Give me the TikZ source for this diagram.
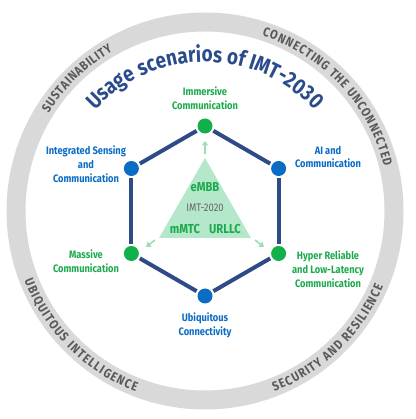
\documentclass[tikz,border=0pt]{standalone}
\usepackage{fontspec}
\setmainfont{Fira Sans}[FakeStretch=0.86]
\usetikzlibrary{decorations.text,arrows.meta}
\definecolor{ringgray}{HTML}{D9D9D9}
\definecolor{ringtext}{HTML}{595959}
\definecolor{titleblue}{HTML}{2B4C8C}
\definecolor{hexblue}{HTML}{2E4A87}
\definecolor{dotblue}{HTML}{0B6CC4}
\definecolor{dotgreen}{HTML}{12B04B}
\definecolor{labgreen}{HTML}{1DAA4E}
\definecolor{trifill}{HTML}{B5E7CB}
\definecolor{arrowgreen}{HTML}{9CDDB6}
\definecolor{imtgray}{HTML}{666666}
\newcommand{\ringfnt}{\bfseries\fontsize{12.8}{14}\selectfont}
\newcommand{\titlefnt}{\bfseries\fontsize{22}{26}\selectfont}
\begin{document}
\begin{tikzpicture}[x=1pt,y=1pt,
  ringlabel/.style={decorate, decoration={text along path, text align=fit to path, text color=ringtext}},
  vdot/.style={circle, inner sep=0pt, minimum size=15pt},
  bluedot/.style={vdot, fill=dotblue},
  greendot/.style={vdot, fill=dotgreen},
  hexedge/.style={hexblue, line width=4pt, shorten <=2pt, shorten >=2pt},
  lab/.style={align=center, font=\bfseries\fontsize{10.8}{13.8}\selectfont},
  bluelab/.style={lab, text=dotblue},
  greenlab/.style={lab, text=labgreen},
  triarrow/.style={arrowgreen, line width=1.6pt, -{Triangle[length=4.5pt,width=6pt]}},
  tritext/.style={font=\bfseries\fontsize{13}{15}\selectfont, text=labgreen}
]
\useasboundingbox (0,0) rectangle (415,419);
\coordinate (C) at (205,208);
% ring
\draw[ringgray, line width=19pt] (C) circle[radius=189];
\path[ringlabel, decoration={text={|\ringfnt|SUSTAINABILITY}}]
  ([shift={(205,208)}]148:184.5) arc[start angle=148, end angle=120, radius=184.5];
\path[ringlabel, decoration={text={|\ringfnt|CONNECTING THE UNCONNECTED}}]
  ([shift={(205,208)}]72:184.5) arc[start angle=72, end angle=14, radius=184.5];
\path[ringlabel, decoration={text={|\ringfnt|UBIQUITOUS INTELLIGENCE}}]
  ([shift={(205,208)}]201:193.5) arc[start angle=201, end angle=249, radius=193.5];
\path[ringlabel, decoration={text={|\ringfnt|SECURITY AND RESILIENCE}}]
  ([shift={(205,208)}]291:193.5) arc[start angle=291, end angle=337, radius=193.5];
% title
\path[decorate, decoration={text along path, text align=center, text color=titleblue,
  text={|\titlefnt|Usage scenarios of IMT-2030}}]
  ([shift={(205,208)}]165:149) arc[start angle=165, end angle=15, radius=149];
% hexagon dots
\node[greendot] (v1) at ([shift={(205,208)}]90:85) {};
\node[bluedot]  (v2) at ([shift={(205,208)}]30:85) {};
\node[greendot] (v3) at ([shift={(205,208)}]-30:85) {};
\node[bluedot]  (v4) at ([shift={(205,208)}]-90:85) {};
\node[greendot] (v5) at ([shift={(205,208)}]-150:85) {};
\node[bluedot]  (v6) at ([shift={(205,208)}]150:85) {};
\foreach \a/\b in {v1/v2,v2/v3,v3/v4,v4/v5,v5/v6,v6/v1}
  \draw[hexedge] (\a) -- (\b);
% triangle
\coordinate (tA) at (205,261);
\coordinate (tB) at (159,181);
\coordinate (tC) at (251,181);
\fill[trifill] (tA) -- (tB) -- (tC) -- cycle;
\node[tritext] (embb) at (205,232) {eMBB};
\node[font=\fontsize{11}{13}\selectfont, text=imtgray] (imt) at (205,211) {IMT-2020};
\node[tritext] (mmtc) at (185,190) {mMTC};
\node[tritext] (urllc) at (225,190) {URLLC};
% arrows
\coordinate (a1s) at (205,265); \coordinate (a1e) at (205,278);
\coordinate (a2s) at (155,179); \coordinate (a2e) at (146,172);
\coordinate (a3s) at (255,179); \coordinate (a3e) at (264,172);
\draw[triarrow] (a1s) -- (a1e);
\draw[triarrow] (a2s) -- (a2e);
\draw[triarrow] (a3s) -- (a3e);
% labels
\node[greenlab] (l1) at (205,321) {Immersive\\Communication};
\node[bluelab]  (l2) at (328,262) {AI and\\Communication};
\node[greenlab] (l3) at (328,150) {Hyper Reliable\\and Low-Latency\\Communication};
\node[bluelab]  (l4) at (205,94) {Ubiquitous\\Connectivity};
\node[greenlab] (l5) at (86,158) {Massive\\Communication};
\node[bluelab]  (l6) at (86,255) {Integrated Sensing\\and\\Communication};
\end{tikzpicture}
\end{document}
